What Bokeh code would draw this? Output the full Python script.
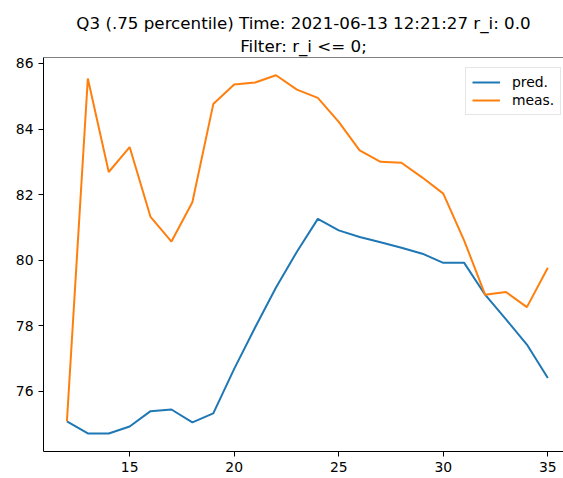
from bokeh.plotting import figure
from bokeh.models import Range1d, FixedTicker, Span, Title, Legend, LegendItem
from bokeh.embed import file_html
from bokeh.resources import INLINE

# data
x_vals = list(range(12, 36))
pred = [75.09, 74.72, 74.72, 74.93, 75.40, 75.45, 75.06, 75.33, 76.69, 77.95,
        79.17, 80.26, 81.26, 80.91, 80.71, 80.55, 80.38, 80.20, 79.92, 79.92,
        78.95, 78.20, 77.43, 76.41]
meas = [75.09, 85.54, 82.69, 83.45, 81.32, 80.57, 81.77, 84.76, 85.36, 85.42,
        85.64, 85.20, 84.95, 84.22, 83.35, 83.00, 82.97, 82.52, 82.03, 80.60,
        78.95, 79.03, 78.57, 79.77]
x_ticks = [15, 20, 25, 30, 35]
y_ticks = [76, 78, 80, 82, 84, 86]
title_line1 = "Q3 (.75 percentile) Time: 2021-06-13 12:21:27 r_i: 0.0"
title_line2 = "Filter: r_i <= 0;"
series_names = ["pred.", "meas."]

FONT = "DejaVu Sans"

p = figure(width=563, height=478, output_backend="svg", toolbar_location=None,
           x_range=Range1d(10.88, 35.75), y_range=Range1d(74.17, 86.18),
           min_border_left=43, min_border_right=0, min_border_top=57,
           min_border_bottom=27, title=None)
p.background_fill_color = "white"
p.border_fill_color = "white"
p.outline_line_color = None
p.xgrid.visible = False
p.ygrid.visible = False

r1 = p.line(x_vals, pred, line_color="#1f77b4", line_width=2)
r2 = p.line(x_vals, meas, line_color="#ff7f0e", line_width=2)

top_spine = Span(location=86.18, dimension="width", line_color="black", line_width=1)
p.add_layout(top_spine)

for ax in (p.xaxis[0], p.yaxis[0]):
    ax.axis_line_color = "black"
    ax.axis_line_width = 1
    ax.major_tick_line_color = "black"
    ax.major_tick_out = 5
    ax.major_tick_in = 0
    ax.minor_tick_line_color = None
    ax.major_label_text_font = FONT
    ax.major_label_text_font_size = "13.9px"
    ax.major_label_text_color = "black"
    ax.major_label_standoff = 5
p.xaxis[0].ticker = FixedTicker(ticks=x_ticks)
p.yaxis[0].ticker = FixedTicker(ticks=y_ticks)

t2 = Title(text=title_line2, align="center", text_font=FONT,
           text_font_size="16.7px", text_font_style="normal", text_color="black",
           standoff=3)
t1 = Title(text=title_line1, align="center", text_font=FONT,
           text_font_size="16.7px", text_font_style="normal", text_color="black",
           standoff=0)
p.add_layout(t2, "above")
p.add_layout(t1, "above")

legend = Legend(items=[LegendItem(label=series_names[0], renderers=[r1]),
                       LegendItem(label=series_names[1], renderers=[r2])],
                location=(422, 336))
legend.margin = 0
legend.padding = 6
legend.spacing = 2
legend.glyph_width = 28
legend.glyph_height = 16
legend.label_standoff = 12
legend.label_text_font = FONT
legend.label_text_font_size = "13.9px"
legend.label_text_color = "black"
legend.border_line_color = "#cccccc"
legend.border_line_width = 1
legend.background_fill_color = "white"
legend.background_fill_alpha = 0.8
p.add_layout(legend)

open("out.html", "w").write(file_html(p, INLINE))
